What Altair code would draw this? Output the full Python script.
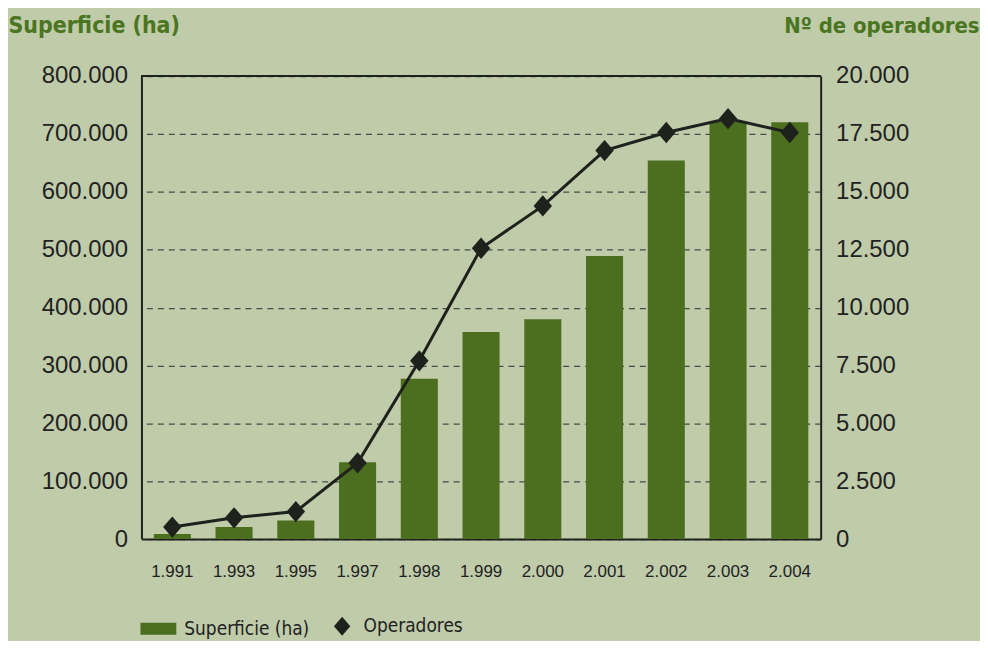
import altair as alt
import pandas as pd

years = ["1.991", "1.993", "1.995", "1.997", "1.998", "1.999", "2.000", "2.001", "2.002", "2.003", "2.004"]
superficie = [9000, 21000, 32000, 133000, 277000, 358000, 380000, 489000, 654000, 721000, 720000]
operadores = [520, 920, 1190, 3290, 7700, 12560, 14390, 16780, 17560, 18160, 17560]

df = pd.DataFrame({
    "year": years,
    "superficie": superficie,
    "operadores": operadores,
    "s_name": ["Superficie (ha)"] * len(years),
    "o_name": ["Operadores"] * len(years),
})

BG = "#BFCBA9"
GREEN = "#4B6E1F"
TITLE_GREEN = "#4A7521"
DARK = "#1F211D"
NARROW = "Liberation Sans Narrow, Arial Narrow, DejaVu Sans Condensed, Liberation Sans, sans-serif"
REG = "Liberation Sans, Arial, sans-serif"
DIAMOND = "M0,-1.1L0.95,0L0,1.1L-0.95,0Z"

x_enc = alt.X("year:N", sort=years,
              scale=alt.Scale(paddingInner=0.4, paddingOuter=0.2),
              axis=alt.Axis(title=None, labelAngle=0, ticks=False, domain=True,
                            domainColor=DARK, domainWidth=2,
                            labelPadding=25, labelFontSize=17, labelColor="#222",
                            labelFont=REG))

bars = alt.Chart(df).mark_bar(color=GREEN).encode(
    x=x_enc,
    y=alt.Y("superficie:Q", scale=alt.Scale(domain=[0, 800000], nice=False),
            axis=alt.Axis(title="Superficie (ha)", orient="left",
                          values=list(range(0, 800001, 100000)), format=",d",
                          labelOverlap=False,
                          ticks=False, domain=True, domainColor=DARK, domainWidth=2,
                          labelPadding=14,
                          labelFontSize=24, labelColor="#222", labelFont=REG,
                          grid=True, gridDash=[6, 5], gridDashOffset=-5,
                          gridColor="#4a4a4a", gridWidth=1.3,
                          titleAngle=0, titleAlign="left", titleBaseline="alphabetic",
                          titleX=-134, titleY=-44, titleFontSize=23, titleFont=NARROW,
                          titleFontWeight="bold", titleColor=TITLE_GREEN)),
    fill=alt.Fill("s_name:N", scale=alt.Scale(domain=["Superficie (ha)"], range=[GREEN]),
                  legend=alt.Legend(orient="none", legendX=5, legendY=543, title=None,
                                    symbolType="M-1.5,-0.5H1.5V0.5H-1.5Z", symbolSize=576,
                                    symbolStrokeWidth=0, labelFontSize=19, labelFont=NARROW,
                                    labelColor="#222", labelOffset=14)),
)

y_right = alt.Y("operadores:Q", scale=alt.Scale(domain=[0, 20000], nice=False),
                axis=alt.Axis(title="Nº de operadores", orient="right",
                              values=list(range(0, 20001, 2500)), format=",d",
                              labelOverlap=False,
                              ticks=False, domain=True, domainColor=DARK, domainWidth=2,
                              labelPadding=15,
                              labelFontSize=24, labelColor="#222", labelFont=REG, grid=False,
                              titleAngle=0, titleAlign="right", titleBaseline="alphabetic",
                              titleX=159, titleY=-44, titleFontSize=22, titleFont=NARROW,
                              titleFontWeight="bold", titleColor=TITLE_GREEN))

line = alt.Chart(df).mark_line(color=DARK, strokeWidth=3).encode(
    x=alt.X("year:N", sort=years),
    y=y_right,
)

points = alt.Chart(df).mark_point(filled=True, size=380, opacity=1).encode(
    x=alt.X("year:N", sort=years),
    y=y_right,
    shape=alt.Shape("o_name:N", scale=alt.Scale(domain=["Operadores"], range=[DIAMOND]),
                    legend=alt.Legend(orient="none", legendX=192, legendY=543, title=None,
                                      symbolFillColor=DARK, symbolStrokeColor=DARK,
                                      symbolSize=300, labelFontSize=19, labelFont=NARROW,
                                      labelColor="#222", labelOffset=12)),
    color=alt.value(DARK),
)

top_rule = alt.Chart(df).mark_rule(color=DARK, strokeWidth=2).encode(
    x=alt.value(0), x2=alt.value(682), y=alt.value(0)
)

right = alt.layer(line, points)

chart = alt.layer(bars, right, top_rule).resolve_scale(y="independent").properties(
    width=682, height=465,
    autosize=alt.AutoSizeParams(type="none"),
    padding={"left": 134, "top": 67, "right": 160, "bottom": 101},
    background=BG,
).configure_view(
    stroke=None
).configure(
    locale={"number": {"decimal": ",", "thousands": ".", "grouping": [3], "currency": ["", " €"]}}
)

chart.save("out.html", embed_options={"renderer": "svg", "actions": False})
